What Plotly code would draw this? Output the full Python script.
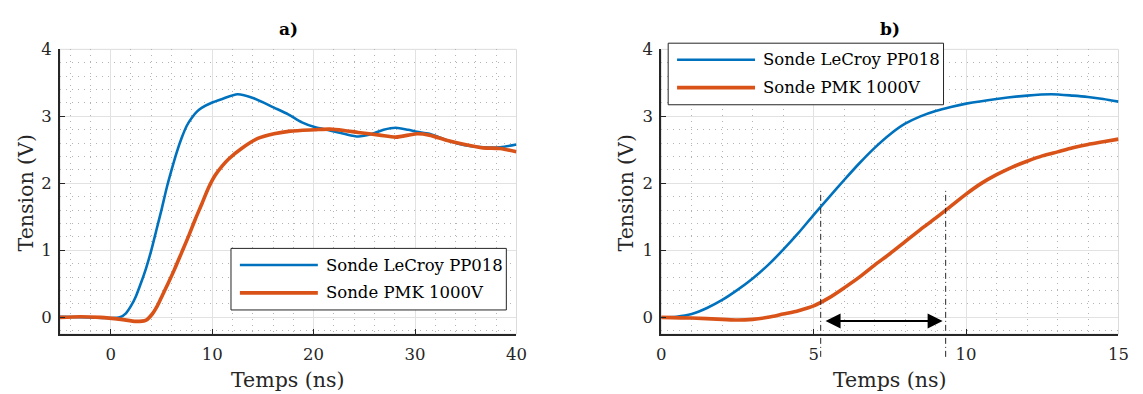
import plotly.graph_objects as go

# ---------------- data ----------------
# Panel a) : -5 .. 40 ns
t_a_lecroy = [-5, -2, 0, 0.9, 1.5, 2.0, 2.5, 3.0, 3.5, 4.0, 4.5, 5.0, 5.5, 6.0, 6.5, 7.0,
              7.5, 8.0, 8.5, 9.0, 9.9, 11.0, 12.5, 14.1, 16.1, 17.5, 18.85, 20.1, 21.6,
              23.0, 24.4, 25.8, 26.9, 28.1, 29.3, 30.2, 31.4, 33.2, 34.9, 36.7, 38.4, 40.0]
v_a_lecroy = [0.01, 0.0, -0.01, 0.0, 0.06, 0.17, 0.32, 0.52, 0.74, 1.0, 1.30, 1.60, 1.92,
              2.20, 2.46, 2.68, 2.86, 2.98, 3.07, 3.13, 3.20, 3.26, 3.33, 3.27, 3.13, 3.03,
              2.91, 2.84, 2.79, 2.74, 2.70, 2.74, 2.80, 2.83, 2.80, 2.77, 2.74, 2.64, 2.57,
              2.54, 2.54, 2.58]

t_a_pmk = [-5, -3, -1, 1, 2.5, 3.5, 4.1, 4.6, 5.1, 5.7, 6.3, 7.0, 7.7, 8.3, 9.0, 9.6, 10.3,
           11.0, 11.6, 12.9, 14.5, 16.1, 17.7, 20.1, 21.6, 23.0, 24.4, 26.5, 28.1, 30.2,
           31.4, 33.2, 34.9, 36.7, 38.4, 40.0]
v_a_pmk = [0.0, 0.01, 0.0, -0.03, -0.06, -0.04, 0.05, 0.17, 0.33, 0.52, 0.72, 0.97, 1.22,
           1.45, 1.70, 1.92, 2.12, 2.26, 2.36, 2.52, 2.67, 2.74, 2.78, 2.80, 2.81, 2.79,
           2.76, 2.72, 2.69, 2.74, 2.72, 2.64, 2.58, 2.53, 2.52, 2.47]

# Panel b) : 0 .. 15 ns
t_b_lecroy = [0, 0.5, 1, 1.5, 2, 2.5, 3, 3.5, 4, 4.5, 5, 5.5, 6, 6.5, 7, 7.5, 8, 8.5, 9,
              9.5, 10, 11, 12, 12.8, 13.5, 14, 14.5, 15]
v_b_lecroy = [0.0, 0.01, 0.05, 0.14, 0.26, 0.41, 0.58, 0.78, 1.01, 1.26, 1.53, 1.79, 2.05,
              2.30, 2.53, 2.73, 2.89, 3.00, 3.08, 3.14, 3.19, 3.26, 3.31, 3.33, 3.31, 3.29,
              3.26, 3.22]

t_b_pmk = [0, 1, 2, 2.5, 3, 3.5, 4, 4.5, 5, 5.5, 6, 6.5, 7, 7.5, 8, 8.5, 9, 9.5, 10,
           10.5, 11, 11.5, 12, 12.5, 13, 13.5, 14, 14.5, 15]
v_b_pmk = [0.0, -0.01, -0.03, -0.04, -0.03, 0.0, 0.05, 0.10, 0.17, 0.29, 0.44, 0.60, 0.78,
           0.95, 1.13, 1.31, 1.48, 1.66, 1.84, 2.00, 2.13, 2.24, 2.33, 2.41, 2.47, 2.53,
           2.58, 2.62, 2.66]

series_names = ["Sonde LeCroy PP018", "Sonde PMK 1000V"]
panel_titles = ["a)", "b)"]
x_label = "Temps (ns)"
y_label = "Tension (V)"
marker_times = [5.23, 9.33]      # dash-dot markers in b)
marker_top = 1.93
arrow_from, arrow_to, arrow_level = 5.34, 9.23, -0.055

# ---------------- style ----------------
W, H = 1143, 394
BLUE = "#0072BD"
ORANGE = "#D95319"
TXT = "#262626"
FONT = "DejaVu Serif"

fig = go.Figure()

def px2x(px):
    return px / W

def px2y(py):
    return 1 - py / H

dom_y = [px2y(332.7), px2y(41.3)]
dom_a = [px2x(55.7), px2x(518.3)]
dom_b = [px2x(665.0), px2x(1128.3)]

line_blue = dict(color=BLUE, width=2.6, shape="spline", smoothing=0.7)
line_orange = dict(color=ORANGE, width=3.6, shape="spline", smoothing=0.7)

fig.add_trace(go.Scatter(x=t_a_lecroy, y=v_a_lecroy, name=series_names[0], mode="lines",
                         line=line_blue, xaxis="x", yaxis="y", showlegend=False))
fig.add_trace(go.Scatter(x=t_a_pmk, y=v_a_pmk, name=series_names[1], mode="lines",
                         line=line_orange, xaxis="x", yaxis="y", showlegend=False))
fig.add_trace(go.Scatter(x=t_b_lecroy, y=v_b_lecroy, name=series_names[0], mode="lines",
                         line=line_blue, xaxis="x2", yaxis="y2", showlegend=False))
fig.add_trace(go.Scatter(x=t_b_pmk, y=v_b_pmk, name=series_names[1], mode="lines",
                         line=line_orange, xaxis="x2", yaxis="y2", showlegend=False))

def axis(domain, rng, dtick, minor_dtick, anchor):
    return dict(domain=domain, range=rng, anchor=anchor, dtick=dtick, tick0=0,
                showline=True, linecolor=TXT, linewidth=1.8, mirror=False,
                ticks="inside", ticklen=5, tickwidth=1.3, tickcolor=TXT,
                showgrid=True, gridcolor="#e2e2e2", gridwidth=1, zeroline=False,
                tickfont=dict(family=FONT, size=16.5, color=TXT),
                minor=dict(dtick=minor_dtick, tick0=0, showgrid=True, gridcolor="#b4b4b4",
                           griddash="1px,5px", gridwidth=1, ticks=""),
                fixedrange=True)

fig.update_layout(
    width=W, height=H,
    margin=dict(l=0, r=0, t=0, b=0),
    paper_bgcolor="white", plot_bgcolor="white",
    xaxis=axis(dom_a, [-5, 40], 10, 2, "y"),
    yaxis=axis(dom_y, [-0.25, 4], 1, 0.2, "x"),
    xaxis2=axis(dom_b, [0, 15], 5, 1, "y2"),
    yaxis2=axis(dom_y, [-0.25, 4], 1, 0.2, "x2"),
    showlegend=False,
)
fig.update_xaxes(ticklabelstandoff=4)
fig.update_yaxes(ticklabelstandoff=3)

shapes = []
annotations = []

# light gray box (top/right edges)
for xr, yr in (("x domain", "y domain"), ("x2 domain", "y2 domain")):
    shapes.append(dict(type="rect", xref=xr, yref=yr, x0=0, x1=1, y0=0, y1=1,
                       line=dict(color="#dcdcdc", width=1), layer="below"))

# titles and axis labels
for dom, title in ((dom_a, panel_titles[0]), (dom_b, panel_titles[1])):
    cx = (dom[0] + dom[1]) / 2
    annotations.append(dict(text="<b>" + title + "</b>", x=cx, y=px2y(20.5), xref="paper", yref="paper",
                            showarrow=False, xanchor="center", yanchor="middle",
                            font=dict(family=FONT, size=17, color="black")))
    annotations.append(dict(text=x_label, x=cx, y=px2y(380), xref="paper", yref="paper",
                            showarrow=False, xanchor="center", yanchor="middle",
                            font=dict(family=FONT, size=20.5, color=TXT)))
for xpx in (21, 629):
    annotations.append(dict(text=y_label, x=px2x(xpx), y=px2y(188), xref="paper", yref="paper",
                            showarrow=False, xanchor="center", yanchor="middle", textangle=-90,
                            font=dict(family=FONT, size=20.5, color=TXT)))

# custom legends
def legend(left, top):
    w, h = 279, 63
    shapes.append(dict(type="rect", xref="paper", yref="paper",
                       x0=px2x(left), x1=px2x(left + w), y0=px2y(top + h), y1=px2y(top),
                       line=dict(color="#262626", width=1), fillcolor="white", layer="above"))
    for i, (name, col, lw) in enumerate(((series_names[0], BLUE, 2.6), (series_names[1], ORANGE, 3.6))):
        ry = top + 17 + i * 28.5
        shapes.append(dict(type="line", xref="paper", yref="paper",
                           x0=px2x(left + 9), x1=px2x(left + 88), y0=px2y(ry), y1=px2y(ry),
                           line=dict(color=col, width=lw), layer="above"))
        annotations.append(dict(text=name, x=px2x(left + 94), y=px2y(ry), xref="paper", yref="paper",
                                showarrow=False, xanchor="left", yanchor="middle",
                                font=dict(family=FONT, size=16.5, color="black")))

legend(229, 245)
legend(672, 35)

# dash-dot markers in panel b
ybot = (332.7 - 356) / 291.4
for tm in marker_times:
    shapes.append(dict(type="line", xref="x2", yref="y2 domain", x0=tm, x1=tm,
                       y0=ybot, y1=(marker_top + 0.25) / 4.25,
                       line=dict(color="#262626", width=1, dash="6px,3px,1px,3px"), layer="above"))

# double arrow
annotations.append(dict(x=arrow_to, y=arrow_level, ax=arrow_from, ay=arrow_level,
                        xref="x2", yref="y2", axref="x2", ayref="y2", text="",
                        showarrow=True, arrowhead=2, startarrowhead=2, arrowside="end+start",
                        arrowwidth=2, arrowsize=1.5, startarrowsize=1.5, arrowcolor="black",
                        standoff=0, startstandoff=0))

fig.update_layout(shapes=shapes, annotations=annotations)
fig.write_html("out.html", config={"displayModeBar": False},
               post_script="document.body.style.margin='0px';document.body.style.overflow='hidden';")
